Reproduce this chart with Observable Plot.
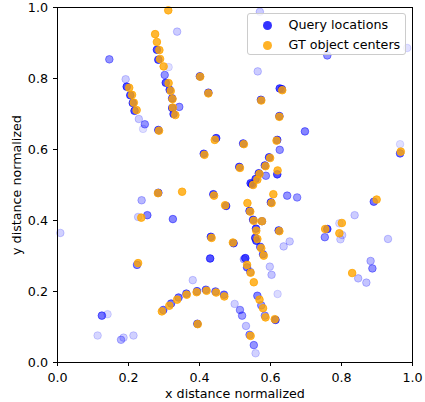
<!DOCTYPE html>
<html>
<head>
<meta charset="utf-8">
<script src="https://cdn.jsdelivr.net/npm/d3@7"></script>
<script src="https://cdn.jsdelivr.net/npm/@observablehq/plot@0.6"></script>
<style>
  body { margin: 0; background: #fff; }
  #wrap { position: relative; width: 425px; height: 402px; font-family: "DejaVu Sans", sans-serif; }
  .legend { position: absolute; left: 247px; top: 13px; width: 159px; height: 42px; box-sizing: border-box;
    background: rgba(255,255,255,0.8); border: 1px solid #cccccc; border-radius: 3px; }
  .sw { position: absolute; width: 9px; height: 9px; border-radius: 50%; }
  .lt { position: absolute; height: 16px; line-height: 16px; font-size: 12.7px; color: #000; white-space: nowrap; }
</style>
</head>
<body>
<div id="wrap"></div>
<script>
// ---- data ----
const queryX = [0.337,0.280,0.146,0.284,0.313,0.302,0.192,0.305,0.195,0.316,0.205,0.323,0.212,0.323,0.343,0.217,0.327,0.229,0.246,0.241,
  0.284,0.401,0.425,0.570,0.564,0.626,0.632,0.573,0.625,0.760,0.985,0.447,0.523,0.619,0.626,0.412,0.596,0.584,0.512,0.567,
  0.587,0.619,0.558,0.548,0.544,0.647,0.675,0.439,0.475,0.601,0.541,0.551,0.559,0.623,0.560,0.557,0.432,0.496,0.654,0.637,
  0.697,0.965,0.965,0.891,0.837,0.794,0.760,0.802,0.753,0.931,0.797,0.882,0.887,0.847,0.870,0.008,0.227,0.253,0.325,0.237,
  0.224,0.284,0.430,0.125,0.141,0.113,0.179,0.186,0.214,0.381,0.298,0.320,0.341,0.363,0.393,0.418,0.445,0.469,0.394,0.571,
  0.529,0.525,0.579,0.534,0.598,0.603,0.620,0.563,0.574,0.584,0.614,0.499,0.514,0.520,0.531,0.541,0.553,0.558,0.543,0.576];
const queryY = [0.932,0.881,0.854,0.853,0.832,0.810,0.798,0.788,0.777,0.768,0.753,0.744,0.731,0.717,0.720,0.709,0.700,0.686,0.671,0.658,
  0.655,0.806,0.760,0.988,0.820,0.772,0.770,0.740,0.694,0.865,0.886,0.632,0.617,0.627,0.599,0.588,0.578,0.555,0.551,0.533,
  0.526,0.530,0.517,0.502,0.505,0.470,0.465,0.474,0.441,0.451,0.427,0.402,0.377,0.372,0.343,0.351,0.354,0.336,0.341,0.327,
  0.651,0.615,0.589,0.453,0.415,0.392,0.376,0.359,0.353,0.348,0.347,0.286,0.265,0.237,0.225,0.365,0.410,0.415,0.404,0.457,
  0.275,0.478,0.293,0.132,0.136,0.076,0.064,0.070,0.076,0.232,0.148,0.166,0.183,0.194,0.201,0.205,0.200,0.191,0.109,0.326,
  0.294,0.291,0.305,0.268,0.270,0.247,0.193,0.188,0.161,0.132,0.120,0.165,0.148,0.132,0.103,0.078,0.049,0.026,0.255,0.398];
const queryWeight = [0.20,0.68,0.42,0.68,0.12,0.42,0.20,0.68,0.68,0.68,0.68,0.68,0.68,0.68,0.42,0.68,0.68,0.20,0.42,0.12,
  0.68,0.68,0.68,0.20,0.20,0.68,0.68,0.68,0.68,0.42,0.12,0.68,0.68,0.68,0.42,0.68,0.68,0.68,0.68,0.68,
  0.42,0.68,0.68,0.68,0.68,0.42,0.38,0.68,0.68,0.68,0.68,0.68,0.68,0.68,0.68,0.68,0.68,0.68,0.20,0.20,
  0.48,0.12,0.55,0.55,0.20,0.14,0.68,0.18,0.42,0.20,0.18,0.28,0.42,0.23,0.23,0.18,0.18,0.48,0.48,0.28,
  0.48,0.68,0.68,0.55,0.14,0.16,0.28,0.18,0.18,0.18,0.55,0.55,0.55,0.55,0.55,0.55,0.55,0.55,0.68,0.55,
  0.68,0.28,0.55,0.55,0.20,0.23,0.14,0.48,0.42,0.38,0.68,0.18,0.38,0.38,0.23,0.42,0.42,0.18,0.38,0.55];

const gtX = [0.312,0.275,0.280,0.287,0.289,0.299,0.313,0.202,0.319,0.210,0.324,0.215,0.325,0.223,0.332,0.286,0.402,0.425,0.633,0.574,
  0.625,0.443,0.525,0.617,0.414,0.599,0.586,0.514,0.569,0.620,0.563,0.551,0.351,0.608,0.441,0.472,0.535,0.603,0.543,0.553,
  0.576,0.560,0.625,0.563,0.434,0.494,0.967,0.899,0.801,0.754,0.794,0.830,0.236,0.227,0.283,0.294,0.315,0.337,0.364,0.392,
  0.420,0.447,0.470,0.395,0.574,0.581,0.534,0.544,0.553,0.569,0.579,0.586,0.612,0.544];
const gtY = [0.992,0.925,0.903,0.880,0.855,0.834,0.787,0.774,0.765,0.754,0.742,0.732,0.718,0.711,0.697,0.653,0.805,0.758,0.767,0.738,
  0.692,0.627,0.615,0.625,0.585,0.576,0.553,0.548,0.531,0.541,0.515,0.500,0.481,0.474,0.470,0.443,0.449,0.449,0.425,0.399,
  0.398,0.371,0.370,0.348,0.351,0.338,0.594,0.459,0.393,0.376,0.364,0.252,0.408,0.280,0.477,0.144,0.160,0.177,0.191,0.198,
  0.202,0.197,0.186,0.108,0.322,0.301,0.275,0.253,0.226,0.177,0.153,0.127,0.122,0.075];

const xTicks = [0.0, 0.2, 0.4, 0.6, 0.8, 1.0];
const yTicks = [0.0, 0.2, 0.4, 0.6, 0.8, 1.0];
const xLabel = "x distance normalized";
const yLabel = "y distance normalized";
const legendLabels = ["Query locations", "GT object centers"];

// ---- build ----
const queries = queryX.map((x, i) => ({x, y: queryY[i], w: queryWeight[i]}));
const gts = gtX.map((x, i) => ({x, y: gtY[i]}));
const fmt = d3.format(".1f");

const chart = Plot.plot({
  width: 425, height: 402,
  marginLeft: 57, marginRight: 13, marginTop: 7, marginBottom: 40,
  style: {fontFamily: "DejaVu Sans, sans-serif", fontSize: "12.7px", color: "black", background: "white"},
  x: {domain: [0, 1]},
  y: {domain: [0, 1]},
  opacity: {domain: [0, 1], range: [0, 1]},
  marks: [
    Plot.dot(queries, {x: "x", y: "y", r: 3.8, fill: "blue", stroke: "blue", strokeWidth: 1, fillOpacity: "w", strokeOpacity: "w"}),
    Plot.dot(gts, {x: "x", y: "y", r: 3.8, fill: "orange", stroke: "orange", strokeWidth: 1, fillOpacity: 0.8, strokeOpacity: 0.8}),
    Plot.frame({stroke: "black", strokeWidth: 1}),
    Plot.axisX({ticks: xTicks, tickFormat: fmt, tickSize: 4, tickPadding: 6, label: null}),
    Plot.axisY({ticks: yTicks, tickFormat: fmt, tickSize: 4, tickPadding: 5.5, label: null}),
    Plot.text([xLabel], {frameAnchor: "bottom", dy: 31, text: d => d, textAnchor: "middle", lineAnchor: "middle", fill: "black"}),
    Plot.text([yLabel], {frameAnchor: "left", dx: -41, rotate: -90, text: d => d, textAnchor: "middle", lineAnchor: "middle", fill: "black"})
  ]
});

const wrap = document.getElementById("wrap");
wrap.appendChild(chart);

const legend = document.createElement("div");
legend.className = "legend";
const swatchColors = ["rgba(0,0,255,0.8)", "rgba(255,165,0,0.85)"];
legendLabels.forEach((label, i) => {
  const sw = document.createElement("div");
  sw.className = "sw";
  sw.style.background = swatchColors[i];
  sw.style.left = "14.5px";
  sw.style.top = (6.5 + i * 20) + "px";
  legend.appendChild(sw);
  const t = document.createElement("div");
  t.className = "lt";
  t.textContent = label;
  t.style.left = "40.5px";
  t.style.top = (2.5 + i * 20) + "px";
  legend.appendChild(t);
});
wrap.appendChild(legend);
</script>
</body>
</html>
